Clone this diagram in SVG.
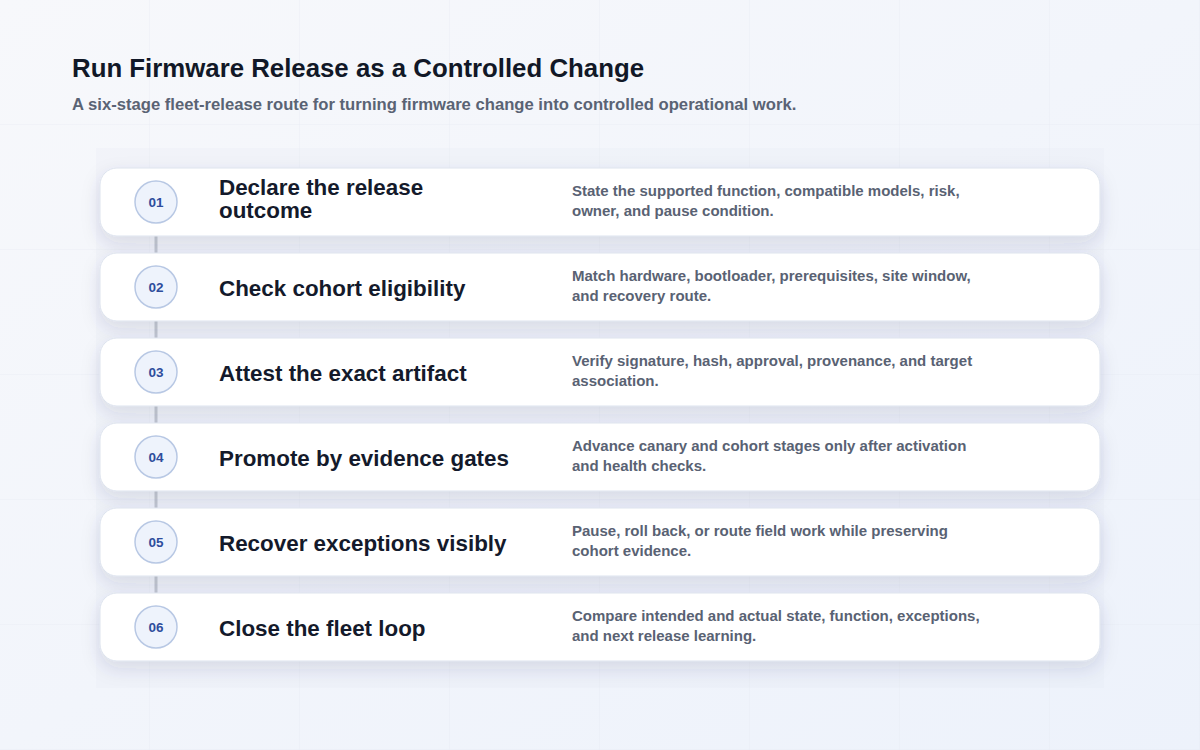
<svg xmlns="http://www.w3.org/2000/svg" width="1200" height="750" viewBox="0 0 1200 750">
<defs>
<linearGradient id="bg" x1="0" y1="0" x2="1" y2="1">
<stop offset="0" stop-color="#f7f8fb"/>
<stop offset="1" stop-color="#edf2fb"/>
</linearGradient>
<pattern id="grid" width="150" height="125" patternUnits="userSpaceOnUse">
<path d="M150 0V125M0 125H150" fill="none" stroke="#e3e8f1" stroke-width="1" opacity="0.6"/>
</pattern>
<filter id="sh" x="-10%" y="-40%" width="120%" height="200%">
<feDropShadow dx="0" dy="7" stdDeviation="9" flood-color="#27355e" flood-opacity="0.13"/>
</filter>
<style>
.card{fill:#ffffff;stroke:#dde3ee;stroke-width:1;filter:url(#sh)}
.badge{fill:#eef3fc;stroke:#b8c8e4;stroke-width:1.5}
.num{font-family:"Liberation Sans",Arial,sans-serif;font-weight:700;font-size:13.5px;fill:#2f4d9c;text-anchor:middle}
.ttl{font-family:"Liberation Sans",Arial,sans-serif;font-weight:700;font-size:22.4px;fill:#141a2b}
.dsc{font-family:"Liberation Sans",Arial,sans-serif;font-weight:700;font-size:15px;fill:#596273}
.h1{font-family:"Liberation Sans",Arial,sans-serif;font-weight:700;font-size:25.8px;fill:#111827}
.h2{font-family:"Liberation Sans",Arial,sans-serif;font-weight:700;font-size:16.65px;fill:#5a6374}
.conn{stroke:#c3c8d1;stroke-width:3;fill:none}
</style>
</defs>
<rect width="1200" height="750" fill="url(#bg)"/>
<rect width="1200" height="750" fill="url(#grid)"/>
<rect x="96" y="148" width="1008" height="540" fill="#e4e9f3" opacity="0.22"/>
<text class="h1" x="72" y="77">Run Firmware Release as a Controlled Change</text>
<text class="h2" x="72" y="110">A six-stage fleet-release route for turning firmware change into controlled operational work.</text>
<g id="connectors">
<line class="conn" x1="156" y1="224" x2="156" y2="266"/>
<line class="conn" x1="156" y1="309" x2="156" y2="351"/>
<line class="conn" x1="156" y1="394" x2="156" y2="436"/>
<line class="conn" x1="156" y1="479" x2="156" y2="521"/>
<line class="conn" x1="156" y1="564" x2="156" y2="606"/>
</g>
<g id="step1">
<rect class="card" x="100" y="168" width="1000" height="68" rx="17"/>
<circle class="badge" cx="156" cy="202" r="21"/>
<text class="num" x="156" y="207">01</text>
<text class="ttl" x="219" y="195">Declare the release</text>
<text class="ttl" x="219" y="218">outcome</text>
<text class="dsc" x="572" y="196">State the supported function, compatible models, risk,</text>
<text class="dsc" x="572" y="216">owner, and pause condition.</text>
</g>
<g id="step2">
<rect class="card" x="100" y="253" width="1000" height="68" rx="17"/>
<circle class="badge" cx="156" cy="287" r="21"/>
<text class="num" x="156" y="292">02</text>
<text class="ttl" x="219" y="296">Check cohort eligibility</text>
<text class="dsc" x="572" y="281">Match hardware, bootloader, prerequisites, site window,</text>
<text class="dsc" x="572" y="301">and recovery route.</text>
</g>
<g id="step3">
<rect class="card" x="100" y="338" width="1000" height="68" rx="17"/>
<circle class="badge" cx="156" cy="372" r="21"/>
<text class="num" x="156" y="377">03</text>
<text class="ttl" x="219" y="381">Attest the exact artifact</text>
<text class="dsc" x="572" y="366">Verify signature, hash, approval, provenance, and target</text>
<text class="dsc" x="572" y="386">association.</text>
</g>
<g id="step4">
<rect class="card" x="100" y="423" width="1000" height="68" rx="17"/>
<circle class="badge" cx="156" cy="457" r="21"/>
<text class="num" x="156" y="462">04</text>
<text class="ttl" x="219" y="466">Promote by evidence gates</text>
<text class="dsc" x="572" y="451">Advance canary and cohort stages only after activation</text>
<text class="dsc" x="572" y="471">and health checks.</text>
</g>
<g id="step5">
<rect class="card" x="100" y="508" width="1000" height="68" rx="17"/>
<circle class="badge" cx="156" cy="542" r="21"/>
<text class="num" x="156" y="547">05</text>
<text class="ttl" x="219" y="551">Recover exceptions visibly</text>
<text class="dsc" x="572" y="536">Pause, roll back, or route field work while preserving</text>
<text class="dsc" x="572" y="556">cohort evidence.</text>
</g>
<g id="step6">
<rect class="card" x="100" y="593" width="1000" height="68" rx="17"/>
<circle class="badge" cx="156" cy="627" r="21"/>
<text class="num" x="156" y="632">06</text>
<text class="ttl" x="219" y="636">Close the fleet loop</text>
<text class="dsc" x="572" y="621">Compare intended and actual state, function, exceptions,</text>
<text class="dsc" x="572" y="641">and next release learning.</text>
</g>
</svg>
